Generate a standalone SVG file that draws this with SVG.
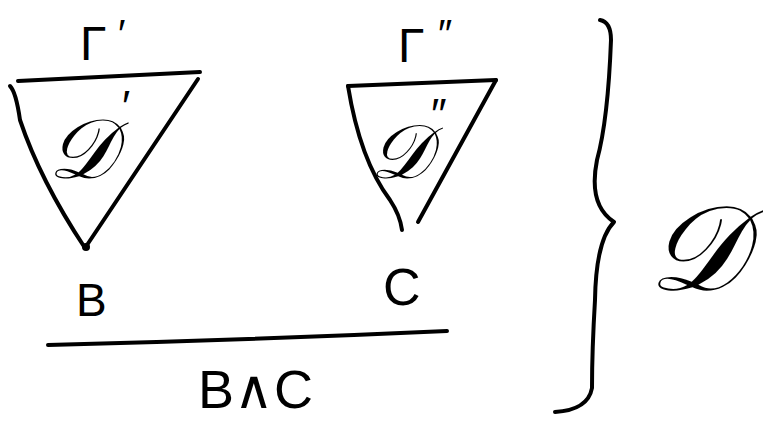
<svg xmlns="http://www.w3.org/2000/svg" width="763" height="421" viewBox="0 0 763 421">
<style>
.s{fill:none;stroke:#000;stroke-width:4;stroke-linecap:round;stroke-linejoin:round}
.t{font-family:"Liberation Sans",sans-serif;fill:#000}
.d{font-family:"DejaVu Serif","Liberation Serif",serif;font-style:italic;fill:#000}
</style>
<rect width="763" height="421" fill="#fff"/>
<g id="tree1">
<path class="s" d="M18,81 L200,72"/>
<path class="s" d="M10,86 Q16,92 20,120 Q40,180 85,248 L198,79"/>
<circle cx="86" cy="247" r="4"/>
<text class="t" x="80" y="60" font-size="48">Γ</text>
<text class="t" x="118" y="48" font-size="40">′</text>
<text class="d" x="48" y="178" font-size="84">𝒟</text>
<text class="t" x="122" y="122" font-size="44">′</text>
</g>
<g id="tree2">
<path class="s" d="M348,86 L496,80"/>
<path class="s" d="M348,86 Q360,160 390,200 Q400,215 402,230"/>
<path class="s" d="M496,80 L418,222"/>
<text class="t" x="398" y="62" font-size="48">Γ</text>
<text class="t" x="438" y="48" font-size="40">″</text>
<text class="d" x="370" y="178" font-size="76">𝒟</text>
<text class="t" x="431" y="130" font-size="44">″</text>
</g>
<g id="labels">
<text class="t" x="76" y="316" font-size="46">B</text>
<text class="t" x="383" y="305" font-size="52">C</text>
<text class="t" x="198" y="408" font-size="54">B∧C</text>
</g>
<g id="connectors">
<path class="s" d="M48,345 Q250,340 447,331"/>
<path class="s" d="M600,20 Q611,22 611,40 Q608,120 597,160 Q588,205 614,222 Q596,240 595,300 Q592,350 592,388 Q588,410 555,412" stroke-width="3"/>
</g>
<g id="D">
<text class="d" x="648" y="290" font-size="120">𝒟</text>
</g>
</svg>
